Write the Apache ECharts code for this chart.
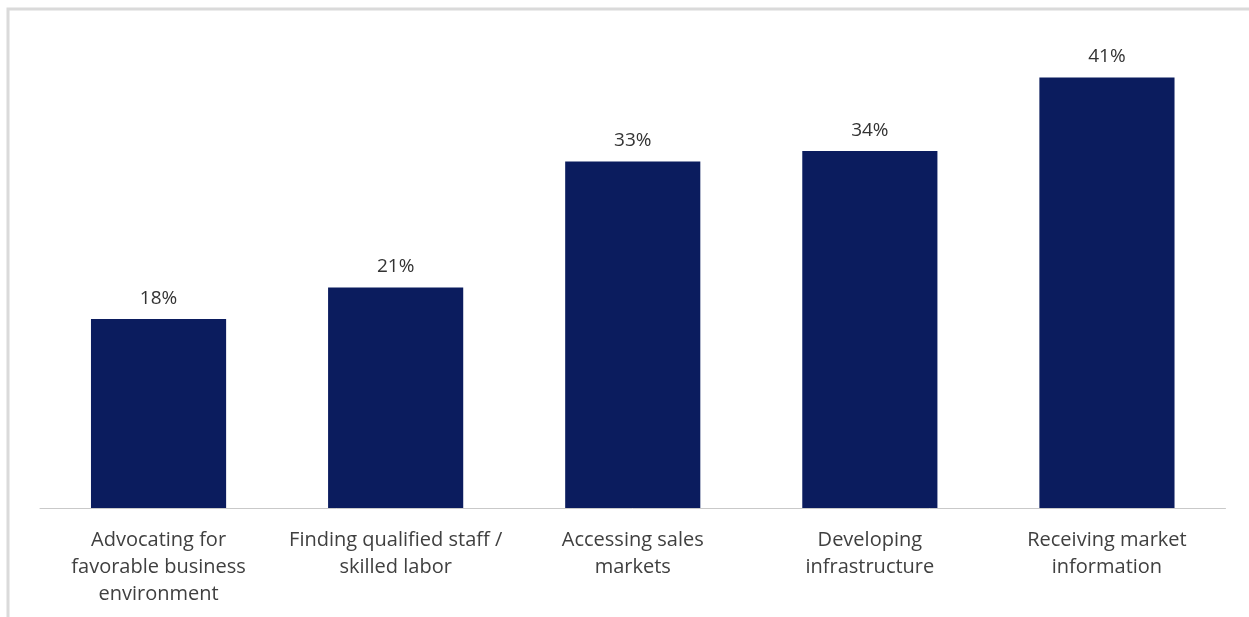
<!DOCTYPE html>
<html>
<head>
<meta charset="utf-8">
<script src="https://cdn.jsdelivr.net/npm/echarts@6/dist/echarts.min.js"></script>
<style>
  html, body { margin: 0; padding: 0; background: #ffffff; }
  #chart { width: 1249px; height: 617px; }
</style>
</head>
<body>
<div id="chart"></div>
<script>
// Categories (line-broken as they appear under the axis)
const categories = [
  'Advocating for\nfavorable business\nenvironment',
  'Finding qualified staff /\nskilled labor',
  'Accessing sales\nmarkets',
  'Developing\ninfrastructure',
  'Receiving market\ninformation'
];
// Share of respondents, in percent
const shares = [18, 21, 33, 34, 41];

const chart = echarts.init(document.getElementById('chart'));
chart.setOption({
  animation: false,
  backgroundColor: '#ffffff',
  graphic: [{
    type: 'rect',
    shape: { x: 8, y: 9, width: 1300, height: 700 },
    style: { fill: 'none', stroke: '#dadada', lineWidth: 3 },
    silent: true
  }],
  grid: { left: 40, right: 23.5, top: 35.5, bottom: 109, containLabel: false },
  xAxis: {
    type: 'category',
    data: categories,
    axisLine: { lineStyle: { color: '#c9c9c9', width: 1 } },
    axisTick: { show: false },
    axisLabel: {
      interval: 0,
      margin: 19,
      color: '#404040',
      fontFamily: '"Open Sans", Lato, sans-serif',
      fontSize: 20,
      lineHeight: 27
    }
  },
  yAxis: {
    type: 'value',
    min: 0,
    max: 45,
    show: false,
    splitLine: { show: false }
  },
  series: [{
    type: 'bar',
    data: shares,
    barWidth: '57%',
    itemStyle: { color: '#0b1c5e' },
    label: {
      show: true,
      position: 'top',
      distance: 11,
      formatter: '{c}%',
      color: '#333333',
      fontFamily: '"Open Sans", Lato, sans-serif',
      fontSize: 19
    }
  }]
});
</script>
</body>
</html>
